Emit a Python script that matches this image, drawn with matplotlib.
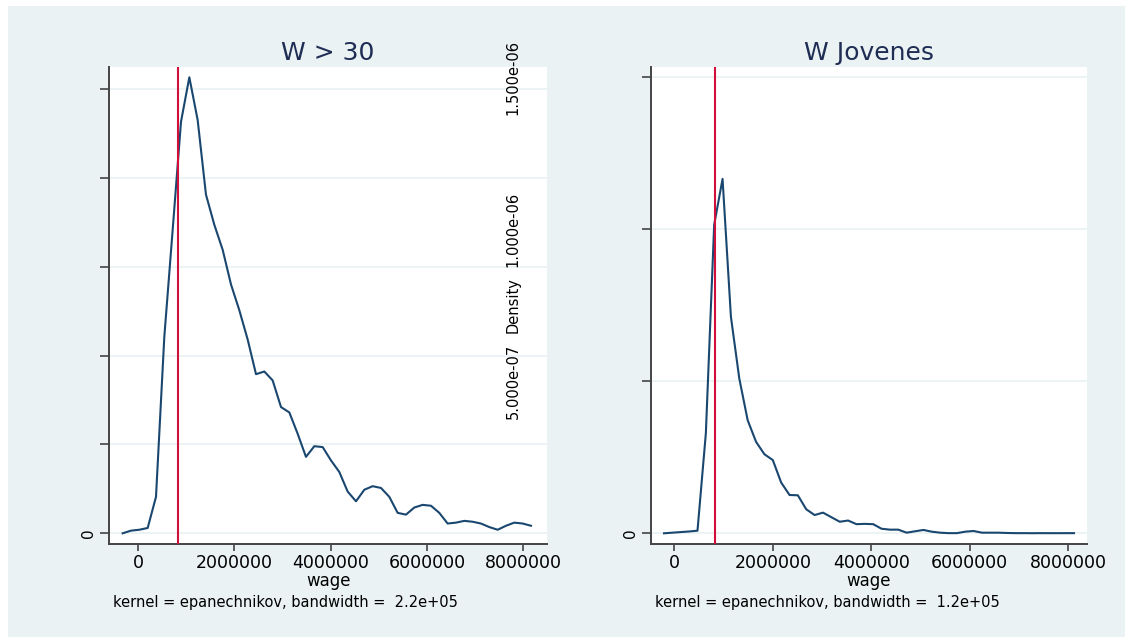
import matplotlib
matplotlib.use("Agg")
import matplotlib.pyplot as plt
import matplotlib.transforms as mtransforms
from matplotlib.patches import Rectangle

# ---------------- data ----------------
titles = ["W > 30", "W Jovenes"]
notes = ["kernel = epanechnikov, bandwidth =  2.2e+05",
         "kernel = epanechnikov, bandwidth =  1.2e+05"]
x_label = "wage"
y_title = "Density"
min_wage = 828116

xticks = [0, 2000000, 4000000, 6000000, 8000000]
xtick_labels = ["0", "2000000", "4000000", "6000000", "8000000"]

DENS_UNIT = 1e-7

# evaluation points (thousands of pesos) and density (units of 1e-7)
wage_w30_k = [-325, -152, 21, 195, 368, 541, 714, 888, 1061, 1234,
              1407, 1581, 1754, 1927, 2100, 2274, 2447, 2620, 2793, 2967,
              3140, 3313, 3486, 3660, 3833, 4006, 4179, 4352, 4526, 4699,
              4872, 5045, 5219, 5392, 5565, 5738, 5912, 6085, 6258, 6431,
              6605, 6778, 6951, 7124, 7298, 7471, 7644, 7817, 7991, 8164]
dens_w30 = [0.00, 0.03, 0.04, 0.06, 0.41, 2.21, 3.41, 4.63, 5.13, 4.65,
            3.81, 3.47, 3.19, 2.80, 2.51, 2.18, 1.79, 1.82, 1.72, 1.42,
            1.36, 1.12, 0.86, 0.98, 0.97, 0.82, 0.69, 0.47, 0.36, 0.49,
            0.53, 0.51, 0.41, 0.23, 0.21, 0.29, 0.32, 0.31, 0.23, 0.11,
            0.12, 0.14, 0.13, 0.11, 0.07, 0.04, 0.085, 0.12, 0.11, 0.085]

wage_jov_k = [-209, -39, 131, 301, 471, 641, 810, 980, 1150, 1320,
              1490, 1660, 1830, 2000, 2170, 2340, 2509, 2679, 2849, 3019,
              3189, 3359, 3529, 3699, 3869, 4039, 4208, 4378, 4548, 4718,
              4888, 5058, 5228, 5398, 5568, 5738, 5907, 6077, 6247, 6417,
              6587, 6757, 6927, 7097, 7267, 7437, 7606, 7776, 7946, 8116]
dens_jov = [0.00, 0.02, 0.04, 0.06, 0.085, 3.29, 10.15, 11.66, 7.12, 5.09,
            3.72, 3.01, 2.60, 2.41, 1.67, 1.26, 1.25, 0.79, 0.60, 0.68,
            0.53, 0.38, 0.42, 0.30, 0.31, 0.30, 0.15, 0.12, 0.12, 0.02,
            0.066, 0.11, 0.053, 0.02, 0.005, 0.005, 0.053, 0.076, 0.02, 0.02,
            0.02, 0.01, 0.005, 0.005, 0.003, 0.005, 0.004, 0.004, 0.005, 0.005]

yticks_w30 = [0, 1e-7, 2e-7, 3e-7, 4e-7, 5e-7]
yticks_jov = [0, 5e-7, 1e-6, 1.5e-6]
float_labels = ["5.000e-07", "1.000e-06", "1.500e-06"]
float_values = [5e-7, 1e-6, 1.5e-6]

# ---------------- style ----------------
BG = "#EAF2F3"
GRID = "#E9F1F2"
NAVY = "#1A476F"
RED = "#D0103A"
TITLE_C = "#1F2D55"
AXC = "#444444"

W, H = 1125, 637
fig = plt.figure(figsize=(W / 100, H / 100), dpi=100, facecolor="white")
fig.patches.append(Rectangle((8 / W, 0), 1 - 8 / W, (H - 6) / H,
                             transform=fig.transFigure, facecolor=BG,
                             edgecolor="none", zorder=-10))

ax_top, ax_bot = 66.7, 544.3
panels = [
    dict(left=109, right=547.3, xlim=(-609000, 8503000), ylim=(-0.1237e-7, 5.249e-7),
         x=wage_w30_k, y=dens_w30, yt=yticks_w30),
    dict(left=650.7, right=1087.3, xlim=(-479000, 8386000), ylim=(-0.362e-7, 15.35e-7),
         x=wage_jov_k, y=dens_jov, yt=yticks_jov),
]

axes = []
for i, p in enumerate(panels):
    ax = fig.add_axes([p["left"] / W, (H - ax_bot) / H,
                       (p["right"] - p["left"]) / W, (ax_bot - ax_top) / H])
    ax.set_facecolor("white")
    xs = [v * 1000 for v in p["x"]]
    ys = [v * DENS_UNIT for v in p["y"]]
    ax.plot(xs, ys, color=NAVY, lw=1.5, zorder=3)
    ax.axvline(min_wage, color=RED, lw=1.5, zorder=4)
    ax.set_xlim(*p["xlim"])
    ax.set_ylim(*p["ylim"])
    for s in ["top", "right"]:
        ax.spines[s].set_visible(False)
    for s in ["left", "bottom"]:
        ax.spines[s].set_color(AXC)
        ax.spines[s].set_linewidth(1.4)
    ax.set_xticks(xticks)
    ax.set_xticklabels(xtick_labels)
    ax.set_yticks(p["yt"])
    ax.set_yticklabels(["0"] + [""] * (len(p["yt"]) - 1))
    ax.tick_params(axis="x", length=4.7, width=1.2, color=AXC, labelsize=12.5,
                   pad=2.2, labelcolor="black")
    ax.tick_params(axis="y", length=6.5, width=1.2, color=AXC, labelsize=11,
                   pad=3.0, labelcolor="black", labelrotation=90)
    for lab in ax.get_yticklabels():
        lab.set_va("center")
        lab.set_ha("right")
    ax.yaxis.grid(True, color=GRID, lw=1.2)
    ax.set_axisbelow(True)
    hpx = ax_bot - ax_top
    wpx = p["right"] - p["left"]
    ax.text(0.5, 1 + (ax_top - 60) / hpx, titles[i], transform=ax.transAxes,
            ha="center", va="baseline", fontsize=18, color=TITLE_C)
    ax.text(0.5, (ax_bot - 586) / hpx, x_label, transform=ax.transAxes,
            ha="center", va="baseline", fontsize=12, color="black")
    ax.text(4 / wpx, (ax_bot - 607) / hpx, notes[i], transform=ax.transAxes,
            ha="left", va="baseline", fontsize=10.5, color="black")
    axes.append(ax)

# displaced y-axis labels of the right panel (as in the original layout)
trans = mtransforms.blended_transform_factory(fig.transFigure, axes[1].transData)
for lab, val in zip(float_labels, float_values):
    fig.text(513 / W, val, lab, transform=trans, rotation=90, ha="center",
             va="center", fontsize=10.5, color="black")
fig.text(513 / W, 7.5e-7, y_title, transform=trans, rotation=90, ha="center",
         va="center", fontsize=10.5, color="black")

fig.savefig("out.png", dpi=100, facecolor=fig.get_facecolor())
